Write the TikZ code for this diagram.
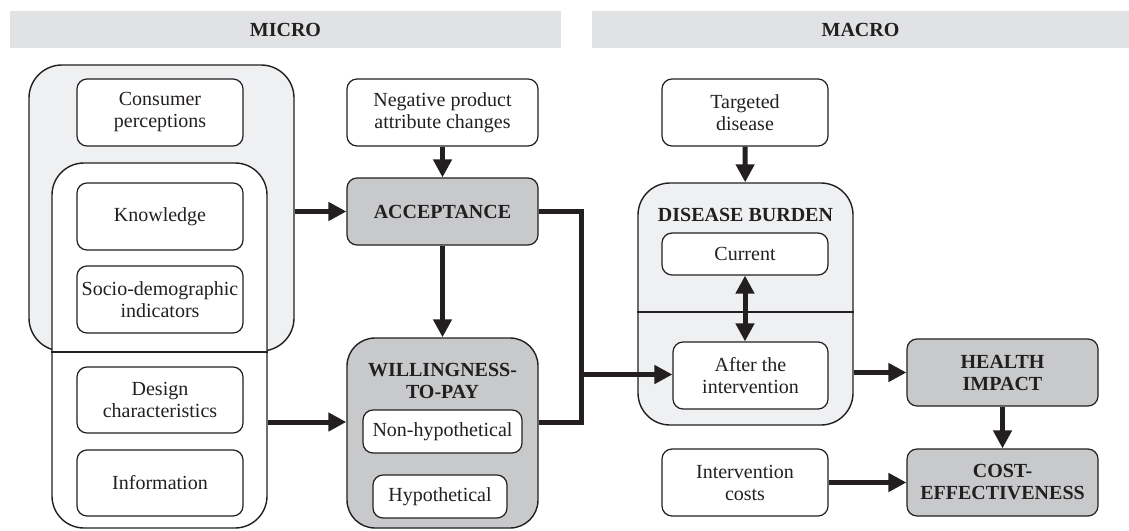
\documentclass[tikz,border=0pt]{standalone}
\usepackage{fontspec}
\setmainfont{Liberation Serif}
\usepackage{xcolor}
\usetikzlibrary{arrows.meta}
\definecolor{boxgray}{RGB}{200,201,203}
\definecolor{panelgray}{RGB}{239,240,242}
\definecolor{bargray}{RGB}{225,226,228}
\definecolor{ink}{RGB}{35,31,32}

\begin{document}
\begin{tikzpicture}[x=0.5pt,y=-0.5pt]
\tikzset{>={Triangle[width=9pt,length=9pt]}}
\tikzstyle{txt}=[font=\fontsize{10}{11}\selectfont,text=ink,align=center]
\tikzstyle{box}=[txt,draw=ink,line width=0.6pt,rounded corners=5pt,fill=white,inner sep=0pt]
\tikzstyle{keybox}=[box,fill=boxgray,font=\fontsize{10}{11}\selectfont\bfseries]
\tikzstyle{panel}=[draw=ink,line width=0.7pt,inner sep=0pt]
\tikzstyle{bar}=[fill=bargray,inner sep=0pt,minimum height=18.5pt,text=ink,font=\fontsize{10}{11}\selectfont\bfseries]
\tikzstyle{flow}=[line width=2.5pt,draw=ink]

\useasboundingbox (0,0) rectangle (1129,530);

\node[bar,minimum width=275.5pt](micro) at (285.5,29.5){MICRO};
\node[bar,minimum width=268.5pt](macro) at (860.5,29.5){MACRO};

\node[panel,fill=panelgray,rounded corners=16.5pt,minimum width=132.5pt,minimum height=143pt](percbg) at (161.5,208){};
\node[panel,fill=white,rounded corners=16pt,minimum width=107.5pt,minimum height=182.5pt](inner) at (159.5,345.5){};
\draw[ink,line width=0.9pt] (percbg.south -| inner.west) -- (percbg.south -| inner.east);

\node[box,minimum width=83pt,minimum height=33.5pt](percep) at (160,112.5){Consumer\\perceptions};
\node[box,minimum width=83pt,minimum height=33.5pt](know) at (160,216.5){Knowledge};
\node[box,minimum width=83pt,minimum height=33.5pt](socio) at (160,299.5){Socio-demographic\\indicators};
\node[box,minimum width=83pt,minimum height=33pt](design) at (160,400){Design\\characteristics};
\node[box,minimum width=83pt,minimum height=33pt](info) at (160,483){Information};

\node[box,minimum width=95.5pt,minimum height=33.5pt](neg) at (442.5,112.5){Negative product\\attribute changes};
\node[keybox,minimum width=95.5pt,minimum height=33.5pt](accept) at (442.5,211.5){ACCEPTANCE};
\node[panel,fill=boxgray,rounded corners=14pt,minimum width=95.5pt,minimum height=95pt](wtp) at (442.5,433){};
\node[txt,font=\fontsize{10}{11}\selectfont\bfseries](wtptitle) at (442.5,381){WILLINGNESS-\\TO-PAY};
\node[box,minimum width=79.5pt,minimum height=21.5pt](nonhyp) at (442.5,431.5){Non-hypothetical};
\node[box,minimum width=67pt,minimum height=21.5pt](hyp) at (440,496.5){Hypothetical};

\node[box,minimum width=83pt,minimum height=33.5pt](target) at (745,112.5){Targeted\\disease};
\node[panel,fill=panelgray,rounded corners=16pt,minimum width=107.5pt,minimum height=121pt](burden) at (745.5,304){};
\coordinate (bsplit) at (745.5,312);
\draw[ink,line width=0.7pt] (burden.west |- bsplit) -- (burden.east |- bsplit);
\node[txt,font=\fontsize{10}{11}\selectfont\bfseries](burdtitle) at (745.5,215){DISEASE BURDEN};
\node[box,minimum width=83pt,minimum height=21pt](current) at (745,254){Current};
\node[box,minimum width=77.5pt,minimum height=33.5pt](after) at (750.5,375.5){After the\\intervention};
\node[box,minimum width=83pt,minimum height=33.5pt](costs) at (745,482.5){Intervention\\costs};

\node[keybox,minimum width=95.5pt,minimum height=33.5pt](health) at (1002.5,372.5){HEALTH\\IMPACT};
\node[keybox,minimum width=95.5pt,minimum height=33.5pt](costeff) at (1002.5,482.5){COST-\\EFFECTIVENESS};

\coordinate (wtpin) at ([yshift=5.5pt]wtp.west);
\coordinate (wtpout) at ([yshift=5.5pt]wtp.east);
\coordinate (join) at (581.5,374.5);

\draw [->,flow] (percbg.east |- accept.west) -- (accept.west);
\draw [->,flow] (inner.east |- wtpin) -- (wtpin);
\draw [->,flow] (neg) -- (accept);
\draw [->,flow] (accept) -- (wtp);
\draw [flow] (accept.east) -| (join);
\draw [flow] (wtpout) -| (join);
\draw [->,flow] (join) -- (after.west |- join);
\draw [->,flow] (target) -- (burden);
\draw [<->,flow] (current.south) -- (current.south |- after.north);
\draw [->,flow] (burden.east |- health.west) -- (health.west);
\draw [->,flow] (costs) -- (costeff);
\draw [->,flow] (health) -- (costeff);
\end{tikzpicture}
\end{document}
